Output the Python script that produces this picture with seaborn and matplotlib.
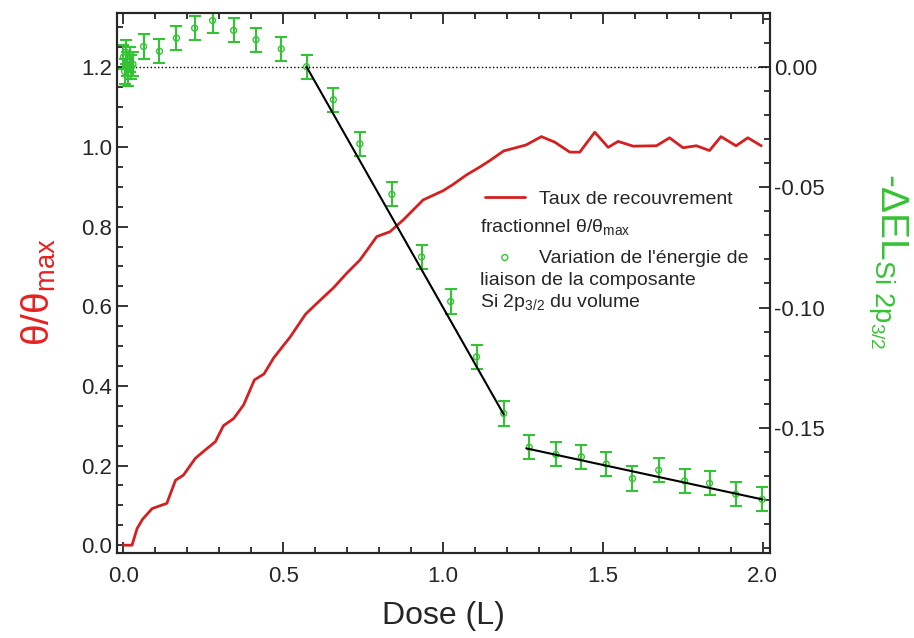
import numpy as np
import matplotlib
matplotlib.use("Agg")
import matplotlib.pyplot as plt
import seaborn as sns
import pandas as pd

# Coverage curve (left axis)
dose_cov = [0.0, 0.027, 0.043, 0.06, 0.09, 0.136, 0.163, 0.188, 0.225, 0.256,
            0.288, 0.313, 0.345, 0.376, 0.41, 0.44, 0.47, 0.522, 0.57, 0.605,
            0.657, 0.699, 0.74, 0.793, 0.834, 0.876, 0.938, 1.0, 1.03, 1.074,
            1.116, 1.147, 1.19, 1.26, 1.308, 1.35, 1.397, 1.428, 1.475, 1.517,
            1.548, 1.595, 1.668, 1.709, 1.751, 1.793, 1.834, 1.87, 1.917, 1.954,
            1.996]
theta = [0.0, 0.0, 0.042, 0.065, 0.092, 0.105, 0.163, 0.176, 0.218, 0.239,
         0.26, 0.30, 0.318, 0.352, 0.415, 0.43, 0.47, 0.523, 0.58, 0.607,
         0.646, 0.683, 0.716, 0.775, 0.787, 0.817, 0.867, 0.89, 0.905, 0.93,
         0.95, 0.966, 0.99, 1.005, 1.026, 1.012, 0.987, 0.987, 1.037, 0.999,
         1.014, 1.002, 1.003, 1.023, 0.998, 1.003, 0.991, 1.026, 1.003, 1.023,
         1.003]

# Binding energy shift (right axis)
dose_el = [0.0, 0.004, 0.008, 0.012, 0.016, 0.02, 0.025, 0.03,
           0.063, 0.113, 0.166, 0.223, 0.279, 0.345, 0.415, 0.494, 0.573,
           0.657, 0.74, 0.84, 0.933, 1.024, 1.105, 1.19, 1.27, 1.353, 1.433,
           1.511, 1.593, 1.675, 1.756, 1.834, 1.916, 1.999]
delta_el = [0.004, -0.002, 0.006, 0.001, -0.003, 0.003, 0.0, 0.001,
            0.0084, 0.0064, 0.0119, 0.016, 0.0192, 0.0151, 0.0112, 0.0074, 0.0,
            -0.0137, -0.032, -0.053, -0.079, -0.0975, -0.1205, -0.144, -0.158,
            -0.161, -0.162, -0.165, -0.171, -0.1675, -0.172, -0.173, -0.1775,
            -0.1797]
el_err = 0.005

# linear fits (endpoints)
fit1_x = [0.573, 1.19]
fit1_y = [0.0, -0.1444]
fit2_x = [1.261, 2.0]
fit2_y = [-0.1585, -0.1797]

sns.set_style("ticks")
plt.rcParams['font.family'] = ['Liberation Sans', 'DejaVu Sans']
plt.rcParams['mathtext.fontset'] = 'custom'
plt.rcParams['mathtext.rm'] = 'Liberation Sans'
plt.rcParams['mathtext.it'] = 'Liberation Sans:italic'

red = '#d42020'
green = '#33c433'

fig = plt.figure(figsize=(9.14, 6.38), dpi=100)
ax = fig.add_axes([0.128, 0.133, 0.714, 0.847])
ax2 = ax.twinx()

cov = pd.DataFrame({'dose': dose_cov, 'theta': theta})
sns.lineplot(data=cov, x='dose', y='theta', ax=ax, color=red, lw=2,
             label='Taux de recouvrement', legend=False)

ax2.axhline(0, color='black', ls=':', lw=1)
ax2.errorbar(dose_el, delta_el, yerr=el_err, fmt='none', ecolor=green,
             elinewidth=1.5, capsize=4, capthick=1.5)
sns.scatterplot(x=dose_el, y=delta_el, ax=ax2, marker='o', s=18,
                facecolor='none', edgecolor=green, linewidth=1,
                label=u"Variation de l'\u00e9nergie de", legend=False)
ax2.plot(fit1_x, fit1_y, color='black', lw=1.5)
ax2.plot(fit2_x, fit2_y, color='black', lw=1.5)

ax.set_xlim(-0.02, 2.022)
ax.set_ylim(-0.02, 1.337)
ax2.set_ylim(-0.202, 0.0224)

ax.set_xticks([0.0, 0.5, 1.0, 1.5, 2.0])
ax.set_xticks(np.arange(0, 2.01, 0.1), minor=True)
ax.set_yticks([0.0, 0.2, 0.4, 0.6, 0.8, 1.0, 1.2])
ax.set_yticks(np.arange(0, 1.31, 0.05), minor=True)
ax.xaxis.set_major_formatter(matplotlib.ticker.FormatStrFormatter('%.1f'))
ax.yaxis.set_major_formatter(matplotlib.ticker.FormatStrFormatter('%.1f'))
ax2.set_yticks([0.0, -0.05, -0.10, -0.15])
ax2.set_yticks(np.arange(-0.20, 0.021, 0.01), minor=True)
ax2.yaxis.set_major_formatter(matplotlib.ticker.FormatStrFormatter('%.2f'))

ax.tick_params(axis='both', which='major', direction='in', length=8, width=1.3,
               labelsize=16, top=True, right=False)
ax.tick_params(axis='x', which='major', pad=9)
ax.tick_params(axis='both', which='minor', direction='in', length=4, width=1.3,
               top=True, right=False)
ax2.tick_params(axis='y', which='major', direction='in', length=8, width=1.3, labelsize=16)
ax2.tick_params(axis='y', which='minor', direction='in', length=4, width=1.3)

for a in (ax, ax2):
    for s in a.spines.values():
        s.set_linewidth(1.5)
        s.set_visible(True)

ax.set_xlabel('Dose (L)', fontsize=23, labelpad=10)
ax.set_ylabel(u'\u03b8/\u03b8$_{\\mathregular{max}}$', fontsize=28, color='#e82020')
ax.yaxis.set_label_coords(-0.09, 0.483)
ax2.set_ylabel(u'-\u0394EL$_{\\mathregular{Si\\ 2p_{3/2}}}$', fontsize=28, color=green,
               rotation=270)
ax2.yaxis.set_label_coords(1.215, 0.54)

h1, l1 = ax.get_legend_handles_labels()
h2, l2 = ax2.get_legend_handles_labels()
ax2.legend(h1 + h2, l1 + l2, loc='upper left', bbox_to_anchor=(0.5636, 0.671),
           frameon=False, fontsize=14, handlelength=2.06, handletextpad=0.75,
           labelspacing=2.1, borderpad=0, borderaxespad=0)

# wrapped continuation lines of the legend labels
legend_lines = [u'fractionnel \u03b8/\u03b8$_{\\mathregular{max}}$',
                'liaison de la composante',
                u'Si 2p$_{\\mathregular{3/2}}$ du volume']
legend_line_y = [0.604, 0.504, 0.463]
for txt, yy in zip(legend_lines, legend_line_y):
    ax2.text(0.556, yy, txt, transform=ax2.transAxes, fontsize=14,
             ha='left', va='center')

fig.savefig('out.png', dpi=100)
